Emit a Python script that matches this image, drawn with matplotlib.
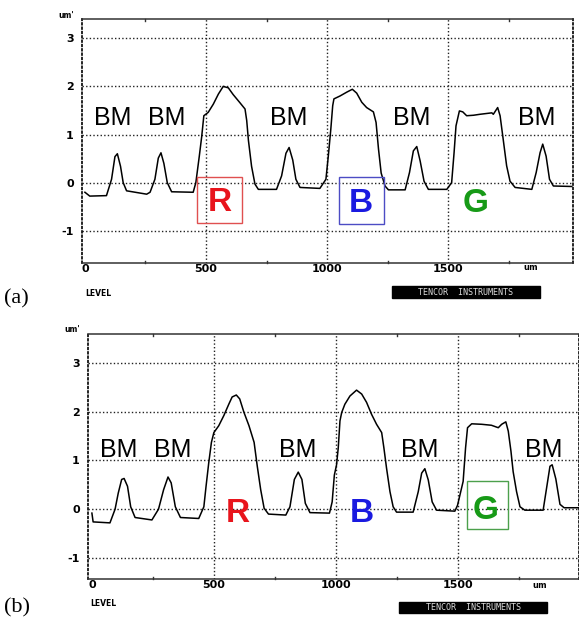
import numpy as np
import matplotlib.pyplot as plt
from matplotlib.patches import Rectangle

# surface profile (a), x in um, height in um
prof_a_x = [0, 20, 89, 110, 124, 134, 147, 158, 172,
            255, 269, 289, 303, 314, 326, 340, 358,
            447, 458, 472, 482, 491, 509, 530, 551, 571, 592, 612, 640, 661, 668, 675, 688, 702, 716,
            791, 812, 830, 843, 858, 871, 888,
            970, 995, 1005, 1015, 1023, 1028, 1053, 1081, 1104, 1122, 1143, 1163, 1191, 1202, 1212, 1223, 1239, 1253,
            1322, 1340, 1356, 1370, 1384, 1400, 1418,
            1494, 1514, 1524, 1532, 1546, 1560, 1576, 1604, 1631, 1680, 1686, 1704, 1714, 1725, 1741, 1755, 1776,
            1845, 1863, 1879, 1890, 1904, 1918, 1934, 2010]
prof_a_y = [-0.2, -0.28, -0.27, 0.07, 0.54, 0.6, 0.34, 0.0, -0.17,
            -0.24, -0.2, 0.07, 0.51, 0.62, 0.4, 0.0, -0.19,
            -0.2, 0.0, 0.54, 0.95, 1.39, 1.46, 1.63, 1.84, 2.0, 1.97, 1.83, 1.66, 1.53, 1.29, 0.88, 0.34, -0.03, -0.14,
            -0.14, 0.14, 0.61, 0.73, 0.47, 0.07, -0.1,
            -0.12, 0.07, 0.56, 1.1, 1.6, 1.74, 1.8, 1.88, 1.94, 1.86, 1.67, 1.56, 1.47, 1.25, 0.7, 0.2, -0.07, -0.15,
            -0.15, 0.21, 0.66, 0.75, 0.45, 0.03, -0.14,
            -0.14, 0.0, 0.62, 1.18, 1.49, 1.47, 1.39, 1.4, 1.42, 1.45, 1.42, 1.56, 1.39, 0.97, 0.35, 0.03, -0.1,
            -0.14, 0.21, 0.62, 0.8, 0.55, 0.07, -0.07, -0.08]

# surface profile (b)
prof_b_x = [0, 5, 74, 95, 108, 122, 132, 146, 159, 177,
            246, 273, 294, 312, 325, 342, 363,
            438, 459, 468, 479, 490, 500, 520, 541, 562, 575, 592, 606, 623, 644, 665, 678, 692, 706, 724,
            795, 812, 830, 846, 861, 875, 894,
            974, 985, 994, 1003, 1010, 1017, 1024, 1037, 1058, 1085, 1106, 1126, 1147, 1167, 1188, 1197, 1208, 1222, 1235, 1249,
            1317, 1338, 1352, 1365, 1379, 1395, 1413,
            1488, 1499, 1522, 1532, 1540, 1557, 1598, 1638, 1666, 1680, 1697, 1707, 1718, 1727, 1741, 1755, 1775,
            1850, 1864, 1878, 1887, 1902, 1919, 1936, 1994]
prof_b_y = [-0.08, -0.26, -0.28, 0.0, 0.33, 0.61, 0.63, 0.47, 0.05, -0.17,
            -0.22, 0.0, 0.4, 0.66, 0.54, 0.05, -0.17,
            -0.19, 0.05, 0.47, 0.95, 1.37, 1.57, 1.71, 1.92, 2.16, 2.3, 2.34, 2.26, 1.99, 1.71, 1.37, 0.88, 0.4, 0.02, -0.1,
            -0.12, 0.05, 0.61, 0.76, 0.61, 0.12, -0.07,
            -0.08, 0.15, 0.7, 0.91, 1.26, 1.81, 1.98, 2.15, 2.32, 2.44, 2.36, 2.19, 1.94, 1.74, 1.57, 1.26, 0.84, 0.36, 0.05, -0.06,
            -0.06, 0.36, 0.74, 0.83, 0.6, 0.15, -0.02,
            -0.04, 0.08, 0.57, 1.26, 1.67, 1.75, 1.74, 1.72, 1.67, 1.74, 1.79, 1.6, 1.19, 0.77, 0.36, 0.05, -0.02,
            -0.02, 0.43, 0.88, 0.91, 0.62, 0.1, 0.03, 0.03]

y_ticks = [-1, 0, 1, 2, 3]
x_ticks = [0, 500, 1000, 1500]
bm_a_x = [116, 339, 843, 1350, 1867]
bm_b_x = [111, 332, 845, 1345, 1853]

W, H = 579, 626
fig = plt.figure(figsize=(W / 100, H / 100), dpi=100)


def fx(px):
    return px / W


def fy(py):
    return 1 - py / H


def style(ax, xlim, ylim):
    ax.set_xlim(*xlim)
    ax.set_ylim(*ylim)
    ax.set_xticks(x_ticks)
    ax.set_yticks(y_ticks)
    ax.set_xticklabels([str(t) for t in x_ticks], fontsize=8, fontweight='bold')
    ax.set_yticklabels([str(t) for t in y_ticks], fontsize=8, fontweight='bold')
    ax.tick_params(axis='x', length=0, pad=1)
    ax.tick_params(axis='y', length=0, pad=6)
    dot = (0, (1, 1.6))
    for v in y_ticks:
        ax.axhline(v, color='#222222', lw=1.0, ls=dot, zorder=1)
    for v in x_ticks[1:]:
        ax.axvline(v, color='#222222', lw=1.0, ls=dot, zorder=1)
    for s in ['left', 'right']:
        ax.spines[s].set_linestyle(dot)
        ax.spines[s].set_linewidth(1.2)
    for s in ['top', 'bottom']:
        ax.spines[s].set_linewidth(1.1)
        ax.spines[s].set_color('#333333')
    # small notches along top and bottom borders
    for v in [250, 750, 1250, 1750]:
        ax.plot([v, v], [ylim[1], ylim[1] - 0.05], color='#333333', lw=1, clip_on=False)
        ax.plot([v, v], [ylim[0], ylim[0] + 0.05], color='#333333', lw=1, clip_on=False)


ax_a = fig.add_axes([fx(82), fy(263), fx(573) - fx(82), fy(19) - fy(263)])
ax_b = fig.add_axes([fx(88), fy(579), fx(579) - fx(88), fy(334) - fy(579)])

style(ax_a, (-12, 2015), (-1.67, 3.4))
style(ax_b, (-16, 1997), (-1.43, 3.59))

ax_a.plot(prof_a_x, prof_a_y, color='black', lw=1.1, zorder=3)
ax_b.plot(prof_b_x, prof_b_y, color='black', lw=1.1, zorder=3)

for x in bm_a_x:
    ax_a.text(x, 1.35, 'BM', fontsize=18, family='Liberation Sans', ha='center', va='center', zorder=4)
for x in bm_b_x:
    ax_b.text(x, 1.22, 'BM', fontsize=18, family='Liberation Sans', ha='center', va='center', zorder=4)

red, blue, green = '#e8141c', '#1a1ae0', '#179a17'
lbl = dict(fontsize=24, fontweight='bold', family='Liberation Sans', ha='center',
           va='center_baseline', zorder=5)
ax_a.text(558, -0.35, 'R', color=red, **lbl)
ax_a.text(1140, -0.37, 'B', color=blue, **lbl)
ax_a.text(1615, -0.37, 'G', color=green, **lbl)
ax_b.text(599, -0.02, 'R', color=red, **lbl)
ax_b.text(1107, -0.02, 'B', color=blue, **lbl)
ax_b.text(1615, 0.05, 'G', color=green, **lbl)

ax_a.add_patch(Rectangle((463, -0.83), 186, 0.955, fill=False, ec='#e05050', lw=1, zorder=5))
ax_a.add_patch(Rectangle((1049, -0.85), 186, 0.975, fill=False, ec='#4c4cc4', lw=1, zorder=5))
ax_b.add_patch(Rectangle((1537, -0.41), 169, 0.98, fill=False, ec='#4ca04c', lw=1, zorder=5))

# units and instrument labels
fig.text(fx(66), fy(15), "um'", fontsize=5.5, fontweight='bold', ha='center', va='center')
fig.text(fx(72), fy(330), "um'", fontsize=5.5, fontweight='bold', ha='center', va='center')
fig.text(fx(531), fy(267), 'um', fontsize=6, fontweight='bold', ha='center', va='center')
fig.text(fx(540), fy(585), 'um', fontsize=6, fontweight='bold', ha='center', va='center')

fig.text(fx(4), fy(299), '(a)', fontsize=16, family='Liberation Serif', ha='left', va='center')
fig.text(fx(4), fy(608), '(b)', fontsize=16, family='Liberation Serif', ha='left', va='center')
fig.text(fx(85), fy(293), 'LEVEL', fontsize=5.5, fontweight='bold', ha='left', va='center')
fig.text(fx(90), fy(604), 'LEVEL', fontsize=5.5, fontweight='bold', ha='left', va='center')

for (x0, y0, x1, y1) in [(392, 286, 540, 298), (399, 602, 547, 613)]:
    fig.patches.append(Rectangle((fx(x0), fy(y1)), fx(x1) - fx(x0), fy(y0) - fy(y1),
                                 transform=fig.transFigure, color='black', zorder=5))
    fig.text(fx((x0 + x1) / 2), fy((y0 + y1) / 2), 'TENCOR  INSTRUMENTS', color='#dddddd',
             fontsize=6, family='DejaVu Sans Mono', ha='center', va='center', zorder=6)

fig.savefig('out.png', dpi=100)
